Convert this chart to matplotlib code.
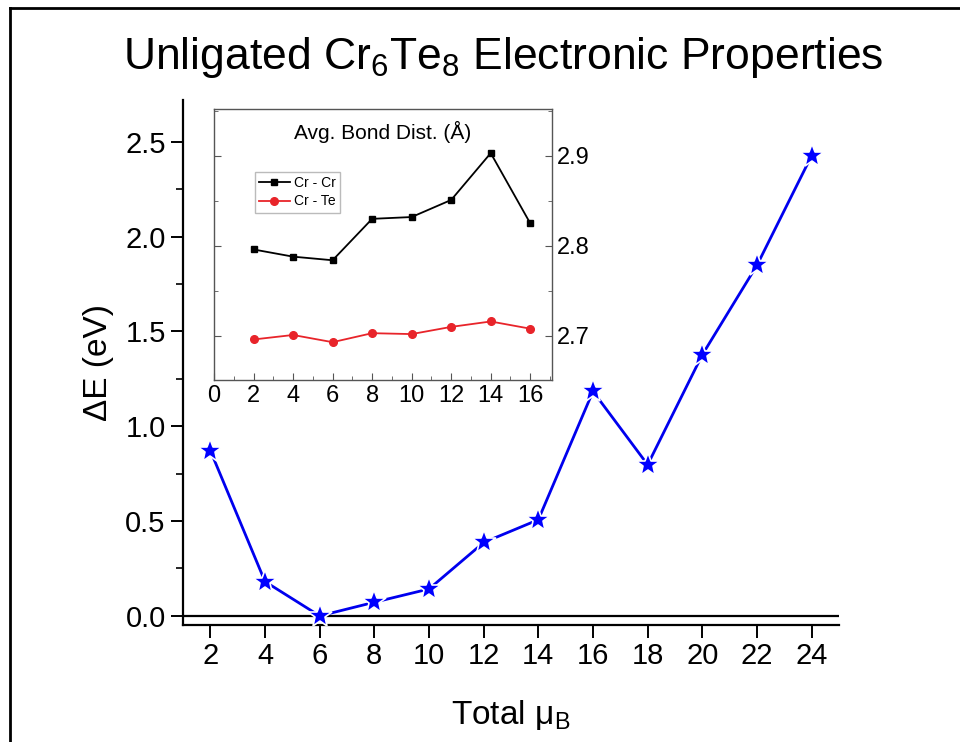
import numpy as np
import matplotlib
matplotlib.use('Agg')
import matplotlib.pyplot as plt
from matplotlib.ticker import MultipleLocator
from matplotlib.lines import Line2D

plt.rcParams['font.family'] = ['Liberation Sans', 'DejaVu Sans']
plt.rcParams['mathtext.default'] = 'regular'

# main data: energy vs total moment
mu_total = [2, 4, 6, 8, 10, 12, 14, 16, 18, 20, 22, 24]
delta_e = [0.872, 0.181, 0.0, 0.072, 0.142, 0.387, 0.507, 1.184, 0.797, 1.377, 1.849, 2.427]

# inset data: average bond distances
mu_inset = [2, 4, 6, 8, 10, 12, 14, 16]
cr_cr = [2.796, 2.788, 2.784, 2.830, 2.832, 2.851, 2.903, 2.825]
cr_te = [2.696, 2.701, 2.693, 2.703, 2.702, 2.710, 2.716, 2.708]

W, H = 960, 742
fig = plt.figure(figsize=(9.6, 7.42), dpi=100)

# figure border (top and left only, image is cropped)
fig.add_artist(Line2D([10/W, 1], [1-8/H, 1-8/H], transform=fig.transFigure, color='k', lw=2))
fig.add_artist(Line2D([10/W, 10/W], [0, 1-8/H], transform=fig.transFigure, color='k', lw=2))

ax = fig.add_axes([183/W, 1-625/H, (839-183)/W, (625-100)/H])
ax.axhline(0, color='k', lw=1.6, zorder=1)
ax.plot(mu_total, delta_e, color='#0000ee', lw=2, marker='*', ms=18,
        mfc='#0000ff', mec='white', mew=1.2, zorder=3)
ax.set_xlim(1, 25)
ax.set_ylim(-0.048, 2.72)
ax.set_xticks(mu_total)
ax.yaxis.set_major_locator(MultipleLocator(0.5))
ax.yaxis.set_minor_locator(MultipleLocator(0.25))
ax.yaxis.set_major_formatter(plt.FormatStrFormatter('%.1f'))
for s in ['top', 'right']:
    ax.spines[s].set_visible(False)
for s in ['left', 'bottom']:
    ax.spines[s].set_linewidth(1.6)
ax.tick_params(axis='both', which='major', direction='out', length=9, width=1.4, labelsize=21)
ax.tick_params(axis='y', which='minor', direction='out', length=5, width=1.2)
ax.set_xlabel('Total μ$_{B}$', fontsize=24, labelpad=20)
ax.set_ylabel('ΔE (eV)', fontsize=24, labelpad=8)

fig.text(503/W, 1-58/H, 'Unligated Cr$_{6}$Te$_{8}$ Electronic Properties',
         ha='center', va='center', fontsize=32)

# inset
axi = fig.add_axes([214/W, 1-380/H, (552-214)/W, (380-109)/H])
axi.plot(mu_inset, cr_cr, color='k', lw=1.3, marker='s', ms=5, label='Cr - Cr')
axi.plot(mu_inset, cr_te, color='#e8242a', lw=1.3, marker='o', ms=5.5, label='Cr - Te')
axi.set_xlim(0, 17.1)
axi.set_ylim(2.651, 2.952)
axi.xaxis.set_major_locator(MultipleLocator(2))
axi.xaxis.set_minor_locator(MultipleLocator(1))
axi.yaxis.set_major_locator(MultipleLocator(0.1))
axi.yaxis.set_minor_locator(MultipleLocator(0.05))
axi.yaxis.set_major_formatter(plt.FormatStrFormatter('%.1f'))
for s in axi.spines.values():
    s.set_color('#555555')
    s.set_linewidth(1.0)
axi.tick_params(axis='both', which='both', direction='in', color='#555555',
                left=True, right=True, labelleft=False, labelright=True, labelsize=17)
axi.tick_params(which='major', length=5)
axi.tick_params(which='minor', length=3)
axi.set_title('Avg. Bond Dist. (Å)', fontsize=15, y=0.86)
axi.legend(loc='upper left', bbox_to_anchor=(0.121, 0.767), fontsize=10,
           frameon=True, fancybox=False, edgecolor='#aaaaaa', handlelength=2.2,
           borderpad=0.3, labelspacing=0.3, handletextpad=0.3, borderaxespad=0)

fig.savefig('out.png', dpi=100)
